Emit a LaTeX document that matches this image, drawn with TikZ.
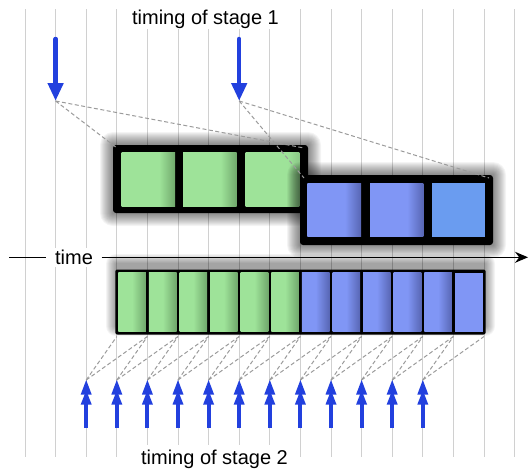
\documentclass[tikz,border=0pt]{standalone}
\usepackage{fontspec}
\setmainfont{Liberation Sans}
\usetikzlibrary{arrows.meta}

\definecolor{gridgray}{RGB}{208,208,208}
\definecolor{dashgray}{RGB}{155,155,155}
\definecolor{stagegreen}{RGB}{158,227,153}
\definecolor{stagegreendark}{RGB}{112,168,108}
\definecolor{stageblue}{RGB}{128,150,245}
\definecolor{stagebluedark}{RGB}{88,102,180}
\definecolor{stagebluelight}{RGB}{106,156,240}
\definecolor{tickblue}{RGB}{34,64,222}

% cell fills that darken towards the right edge
% (the 25bp..75bp span is stretched over the cell)
\pgfdeclarehorizontalshading{widegreen}{100bp}{color(0bp)=(stagegreen); color(60bp)=(stagegreen); color(75bp)=(stagegreendark); color(100bp)=(stagegreendark)}
\pgfdeclarehorizontalshading{wideblue}{100bp}{color(0bp)=(stageblue); color(60bp)=(stageblue); color(75bp)=(stagebluedark); color(100bp)=(stagebluedark)}
\pgfdeclarehorizontalshading{widegreensoft}{100bp}{color(0bp)=(stagegreen); color(64bp)=(stagegreen); color(75bp)=(stagegreen!88!black); color(100bp)=(stagegreen!88!black)}
\pgfdeclarehorizontalshading{narrowgreen}{100bp}{color(0bp)=(stagegreen); color(50bp)=(stagegreen); color(75bp)=(stagegreendark); color(100bp)=(stagegreendark)}
\pgfdeclarehorizontalshading{narrowblue}{100bp}{color(0bp)=(stageblue); color(50bp)=(stageblue); color(75bp)=(stagebluedark); color(100bp)=(stagebluedark)}

% soft glow behind a box: stacked translucent rounded rectangles
\newcommand\glowbox[5]{%
  \foreach \g in {1,...,#5}{%
    \fill[black,fill opacity=0.042,rounded corners=\g pt]
      ({#1-\g},{#2-\g}) rectangle ({#3+\g},{#4+\g});}}

\begin{document}
\begin{tikzpicture}[x=1pt,y=-1pt,
  gridline/.style={draw=gridgray,line width=0.9pt},
  mapline/.style={draw=dashgray,line width=1pt,dash pattern=on 4pt off 2.5pt},
  caption/.style={font=\fontsize{20}{24}\selectfont,fill=white,inner xsep=8pt},
  stageone/.style={draw=tickblue,line width=4.5pt,line cap=round,
    -{Triangle[width=15pt,length=18pt,line cap=butt]}},
  stagetwo/.style={draw=tickblue,line width=4pt},
  axis/.style={draw=black,line width=1.3pt}]
\useasboundingbox (0,0) rectangle (529,469);

% vertical time grid
\foreach \k in {0,...,16}
  \draw[gridline] ({25+30.6*\k},9) -- ({25+30.6*\k},457);

% captions and time axis
\node[caption,anchor=base,inner ysep=1pt] (title1) at (205.5,24) {timing of stage 1};
\node[caption,anchor=base,inner ysep=4.5pt] (title2) at (214.5,464) {timing of stage 2};
\node[caption,inner xsep=8.5pt,inner ysep=2pt] (time) at (74,257.3) {time};
\coordinate (axisstart) at (9,257.3);
\coordinate (axisend) at (528,257.3);
\draw[axis] (axisstart) -- (time.west);
\draw[axis,-{Stealth[length=13pt,width=11pt]}] (time.east) -- (axisend);

% stage 1: green group of three cells
\glowbox{113}{145}{308}{213}{13}
\fill[black,rounded corners=3pt] (113,145) rectangle (308,213);
\fill[shading=widegreen] (121.7,152.7) rectangle (175.2,206);
\fill[shading=widegreen] (183,152.7) rectangle (236.7,206);
\fill[shading=widegreensoft] (245.7,152.7) rectangle (299.3,206);

% stage 1: blue group of three cells
\glowbox{300}{175}{493}{245}{13}
\fill[black,rounded corners=3pt] (300,175) rectangle (493,245);
\fill[shading=wideblue] (307.3,183.3) rectangle (361,236.7);
\fill[shading=wideblue] (370,183.3) rectangle (423.3,236.7);
\fill[stagebluelight] (431.7,183.3) rectangle (485,236.7);

% stage 2: strip of twelve cells
\glowbox{116}{264}{485}{326}{10}
\fill[black,rounded corners=2pt] (115.3,269.5) rectangle (485.6,334.5);
\foreach \j in {0,...,5}{%
  \pgfmathsetmacro\xa{25+30.6*(3+\j)+1.5}
  \pgfmathsetmacro\xb{25+30.6*(4+\j)-1.5}
  \fill[shading=narrowgreen] (\xa,272.5) rectangle (\xb,331.5);}
\foreach \j in {6,...,10}{%
  \pgfmathsetmacro\xa{25+30.6*(3+\j)+1.5}
  \pgfmathsetmacro\xb{25+30.6*(4+\j)-1.5}
  \fill[shading=narrowblue] (\xa,272.5) rectangle (\xb,331.5);}
\fill[stageblue] ({25+30.6*14+1.5},272.5) rectangle ({25+30.6*15-1.5},331.5);

% stage 1 ticks and their spans
\coordinate (s1a) at (55.6,101);
\coordinate (s1b) at (239.2,101);
\coordinate (greenL) at (117,148);
\coordinate (greenR) at (304,148);
\coordinate (blueL) at (304,178);
\coordinate (blueR) at (489,178);
\draw[mapline] (s1a) -- (greenL);
\draw[mapline] (s1a) -- (greenR);
\draw[mapline] (s1b) -- (blueL);
\draw[mapline] (s1b) -- (blueR);
\draw[stageone] (55.6,39) -- (s1a);
\draw[stageone] (239.2,39) -- (s1b);

% stage 2 ticks and their cells
\foreach \k in {2,...,13}{%
  \pgfmathsetmacro\xt{25+30.6*\k}
  \coordinate (tip\k) at (\xt,380);
  \coordinate (cl\k) at ({\xt+30.6},336.5);
  \coordinate (cr\k) at ({\xt+61.2},336.5);
  \draw[mapline] (tip\k) -- (cl\k);
  \draw[mapline] (tip\k) -- (cr\k);
  \draw[stagetwo] (\xt,428) -- (\xt,398);
  \fill[tickblue] (tip\k) -- ++(5.5,14.5) -- ++(-11,0) -- cycle;
  \fill[tickblue] (\xt,390.5) -- ++(5.5,14) -- ++(-11,0) -- cycle;}
\end{tikzpicture}
\end{document}
